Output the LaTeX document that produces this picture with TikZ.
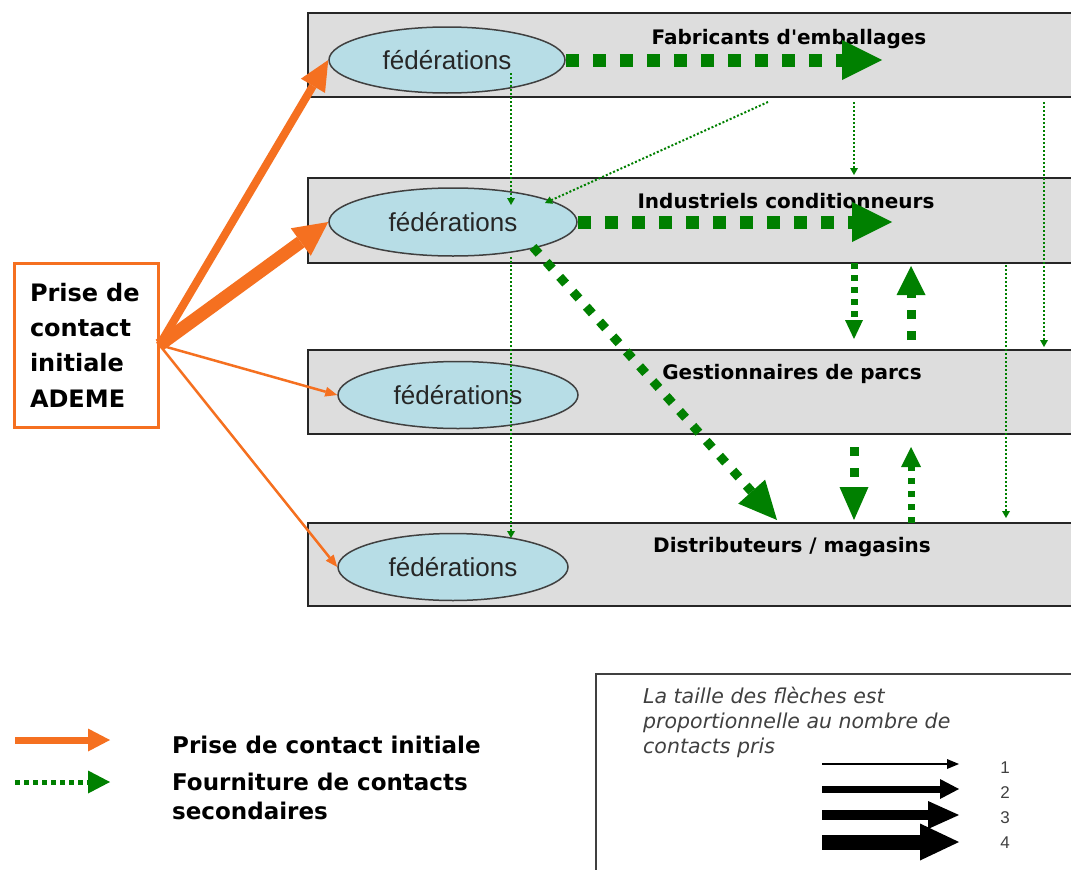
\documentclass[tikz,border=0pt]{standalone}
\usepackage{fontspec}
\setmainfont{Liberation Sans}
\newfontfamily\djv{DejaVu Sans}
\usetikzlibrary{arrows.meta,shapes.geometric}
\definecolor{orng}{RGB}{245,112,32}
\definecolor{grn}{RGB}{0,128,0}
\definecolor{bandgray}{RGB}{221,221,221}
\definecolor{ellblue}{RGB}{183,221,230}
\begin{document}
\begin{tikzpicture}[x=1pt,y=-1pt,
  bandline/.style={draw=black!85,line width=1.8pt},
  fed/.style={ellipse,draw=black!75,line width=1.5pt,fill=ellblue,inner sep=0pt,
    font=\fontsize{26}{30}\selectfont,text=black!85},
  title/.style={anchor=base,inner sep=0pt,font=\djv\bfseries\fontsize{20}{24}\selectfont},
  hd/.style args={#1/#2}{-{Triangle[length=#1pt,width=#2pt,line width=0pt]}},
  gthick/.style={draw=grn,line width=13pt,dash pattern=on 13pt off 14pt},
  thindot/.style={draw=grn,line width=2pt,dash pattern=on 2pt off 2pt,hd=7/8},
  orarrow/.style={draw=orng},
  legtext/.style={anchor=base west,inner sep=0pt,font=\djv\bfseries\fontsize{23}{28}\selectfont},
  itxt/.style={anchor=base west,inner sep=0pt,text=black!75,font=\djv\itshape\fontsize{20.5}{25}\selectfont},
  numtxt/.style={anchor=base,inner sep=0pt,text=black!75,font=\fontsize{17}{20}\selectfont}
]
\useasboundingbox (0,0) rectangle (1071,870);
\fill[white] (0,0) rectangle (1071,870);

% bands
\foreach \t/\b in {13/97,178/263,350/434,523/606}{
  \fill[bandgray] (308,\t) rectangle (1071,\b);
  \draw[bandline] (1071,\t) -- (308,\t) -- (308,\b) -- (1071,\b);
}

% titles
\node[title] (t1) at (789,44) {Fabricants d'emballages};
\node[title] (t2) at (786,208) {Industriels conditionneurs};
\node[title] (t3) at (792,379) {Gestionnaires de parcs};
\node[title] (t4) at (792,552) {Distributeurs / magasins};

% federation ellipses
\node[fed,minimum width=236pt,minimum height=66pt] (e1) at (447,60) {fédérations};
\node[fed,minimum width=248pt,minimum height=68pt] (e2) at (453,222) {fédérations};
\node[fed,minimum width=240pt,minimum height=67pt] (e3) at (458,395) {fédérations};
\node[fed,minimum width=230pt,minimum height=67pt] (e4) at (453,567) {fédérations};

% ADEME box
\node[draw=orng,line width=3pt,minimum width=144pt,minimum height=164pt,inner sep=0pt,
  text width=112pt,align=left,font=\djv\bfseries\fontsize{24}{35.3}\selectfont]
  (ademe) at (86,345) {Prise de\\contact\\initiale\\ADEME};

% orange initial contacts
\draw[orarrow,line width=8pt,hd=30/28] (ademe.east) -- (e1.west);
\draw[orarrow,line width=13pt,hd=34/34] (ademe.east) -- (e2.west);
\draw[orarrow,line width=2.5pt,hd=12/10] (ademe.east) -- (e3.west);
\draw[orarrow,line width=2.5pt,hd=12/10] (ademe.east) -- (e4.west);

% coordinates for free ends
\coordinate (aend) at (882,60);
\coordinate (bend) at (892,222);
\coordinate (cstart) at (533,247);
\coordinate (cend) at (777,520);
\coordinate (v1a) at (854,263); \coordinate (v1b) at (854,339);
\coordinate (v2a) at (911,340); \coordinate (v2b) at (911,266);
\coordinate (v3a) at (854,447); \coordinate (v3b) at (854,520);
\coordinate (v4a) at (911,523); \coordinate (v4b) at (911,447);
\coordinate (d1a) at (511,73);  \coordinate (d1b) at (511,205);
\coordinate (d2a) at (511,257); \coordinate (d2b) at (511,538);
\coordinate (d3a) at (768,102); \coordinate (d3b) at (545,203);
\coordinate (d4a) at (854,102); \coordinate (d4b) at (854,175);
\coordinate (d5a) at (1044,102); \coordinate (d5b) at (1044,347);
\coordinate (d6a) at (1006,265); \coordinate (d6b) at (1006,518);

% thick green secondary contacts
\draw[gthick,hd=40/40] (e1.east) -- (aend);
\draw[gthick,hd=40/40] (e2.east) -- (bend);
\draw[draw=grn,line width=9pt,dash pattern=on 9pt off 11pt,hd=38/36] (cstart) -- (cend);
\draw[draw=grn,line width=7pt,dash pattern=on 6pt off 6pt,hd=19/18] (v1a) -- (v1b);
\draw[draw=grn,line width=9pt,dash pattern=on 9pt off 12pt,hd=29/29] (v2a) -- (v2b);
\draw[draw=grn,line width=9pt,dash pattern=on 9pt off 12pt,hd=33/29] (v3a) -- (v3b);
\draw[draw=grn,line width=7pt,dash pattern=on 6pt off 7pt,hd=20/20] (v4a) -- (v4b);

% thin dotted contacts
\draw[thindot] (d1a) -- (d1b);
\draw[thindot] (d2a) -- (d2b);
\draw[thindot] (d3a) -- (d3b);
\draw[thindot] (d4a) -- (d4b);
\draw[thindot] (d5a) -- (d5b);
\draw[thindot] (d6a) -- (d6b);

% left legend
\coordinate (lo1) at (15,740); \coordinate (lo2) at (110,740);
\coordinate (lg1) at (15,782); \coordinate (lg2) at (110,782);
\draw[orarrow,line width=7pt,hd=22/23] (lo1) -- (lo2);
\draw[draw=grn,line width=5pt,dash pattern=on 5pt off 4pt,hd=22/23] (lg1) -- (lg2);
\node[legtext] (l1) at (172,753) {Prise de contact initiale};
\node[legtext] (l2) at (172,790) {Fourniture de contacts};
\node[legtext] (l3) at (172,819) {secondaires};

% right legend box
\draw[black!75,line width=1.5pt] (1071,674) -- (596,674) -- (596,870);
\node[itxt] (i1) at (643,703) {La taille des flèches est};
\node[itxt] (i2) at (643,728) {proportionnelle au nombre de};
\node[itxt] (i3) at (643,753) {contacts pris};
\coordinate (k1a) at (822,764); \coordinate (k1b) at (959,764);
\coordinate (k2a) at (822,789); \coordinate (k2b) at (959,789);
\coordinate (k3a) at (822,815); \coordinate (k3b) at (959,815);
\coordinate (k4a) at (822,842); \coordinate (k4b) at (959,842);
\draw[black,line width=2.5pt,hd=12/10] (k1a) -- (k1b);
\draw[black,line width=7pt,hd=19/20] (k2a) -- (k2b);
\draw[black,line width=10pt,hd=31/28] (k3a) -- (k3b);
\draw[black,line width=15pt,hd=39/37] (k4a) -- (k4b);
\node[numtxt] (n1) at (1005,773) {1};
\node[numtxt] (n2) at (1005,798) {2};
\node[numtxt] (n3) at (1005,823) {3};
\node[numtxt] (n4) at (1005,848) {4};
\end{tikzpicture}
\end{document}
